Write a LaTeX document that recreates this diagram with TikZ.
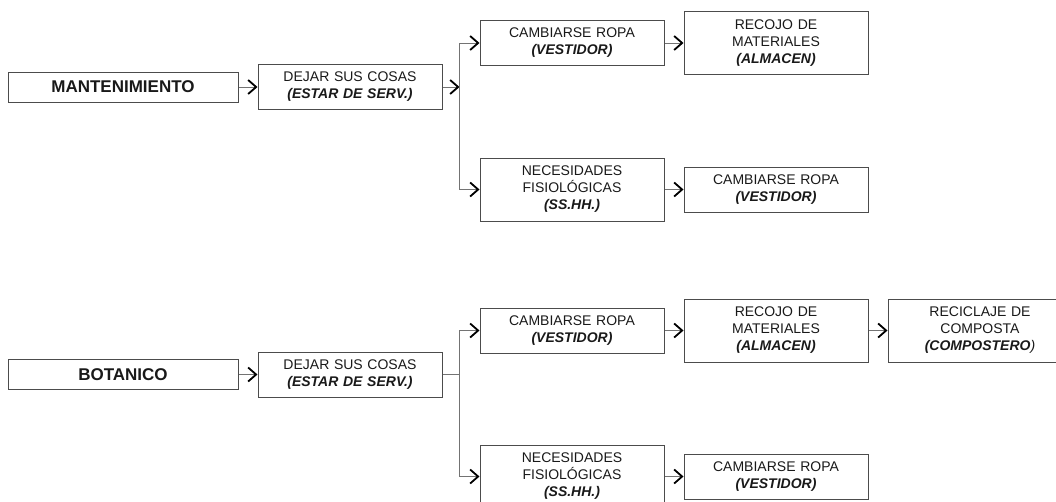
\documentclass[tikz,border=0pt]{standalone}
\usepackage{fontspec}
\setmainfont{Liberation Sans}
\usetikzlibrary{arrows.meta,positioning}

\newcommand{\lugar}[1]{\textbf{\textit{#1}}}

\begin{document}
\begin{tikzpicture}[
                x=1pt, y=-1pt,
                block/.style={draw=black!70, line width=1pt, text width=176pt, inner sep=4pt, minimum height=45pt, align=center, text=black!90, font=\fontsize{14}{17}\selectfont},
                tall/.style={block, minimum height=63pt},
                area/.style={block, text width=222pt, minimum height=30pt, font=\fontsize{17}{20}\selectfont\bfseries},
                link/.style={draw=black!55, line width=1pt},
                arrow/.style={link, -{Straight Barb[length=8pt,width=14pt,line width=1.8pt,color=black]}},
                node distance=19pt
            ]

            \useasboundingbox (0,0) rectangle (1056,501);
            \clip (0,0) rectangle (1056,501);

            % mantenimiento
            \node[area] (mant) at (123,87) {MANTENIMIENTO};

            \node[block, right=of mant] (dejar1) {DEJAR SUS COSAS\\\lugar{(ESTAR DE SERV.)}};

            \node[block, right=37pt of dejar1, yshift=44pt] (vest1) {CAMBIARSE ROPA\\\lugar{(VESTIDOR)}};

            \node[tall, right=37pt of dejar1, yshift=-102.5pt] (ss1) {NECESIDADES\\FISIOLÓGICAS\\\lugar{(SS.HH.)}};

            \node[tall, right=of vest1] (alm1) {RECOJO DE\\MATERIALES\\\lugar{(ALMACEN)}};

            \node[block, right=of ss1] (vest2) {CAMBIARSE ROPA\\\lugar{(VESTIDOR)}};

            \coordinate[right=17pt of dejar1.east] (fork1);

            \draw[arrow] (mant) -- (dejar1);
            \draw[arrow] (dejar1) -- (fork1);
            \draw[arrow] (fork1) |- (vest1);
            \draw[arrow] (fork1) |- (ss1);
            \draw[arrow] (vest1) -- (alm1);
            \draw[arrow] (ss1) -- (vest2);

            % botanico
            \node[area, below=256.5pt of mant] (bot) {BOTANICO};

            \node[block, right=of bot] (dejar2) {DEJAR SUS COSAS\\\lugar{(ESTAR DE SERV.)}};

            \node[block, right=37pt of dejar2, yshift=44pt] (vest3) {CAMBIARSE ROPA\\\lugar{(VESTIDOR)}};

            \node[tall, right=37pt of dejar2, yshift=-102pt] (ss2) {NECESIDADES\\FISIOLÓGICAS\\\lugar{(SS.HH.)}};

            \node[tall, right=of vest3] (alm2) {RECOJO DE\\MATERIALES\\\lugar{(ALMACEN)}};

            \node[tall, right=of alm2] (comp) {RECICLAJE DE\\COMPOSTA\\\lugar{(COMPOSTERO}\textit{)}};

            \node[block, right=of ss2] (vest4) {CAMBIARSE ROPA\\\lugar{(VESTIDOR)}};

            \coordinate[right=17pt of dejar2.east] (fork2);

            \draw[arrow] (bot) -- (dejar2);
            \draw[link] (dejar2) -- (fork2);
            \draw[arrow] (fork2) |- (vest3);
            \draw[arrow] (fork2) |- (ss2);
            \draw[arrow] (vest3) -- (alm2);
            \draw[arrow] (alm2) -- (comp);
            \draw[arrow] (ss2) -- (vest4);

        \end{tikzpicture}
\end{document}
